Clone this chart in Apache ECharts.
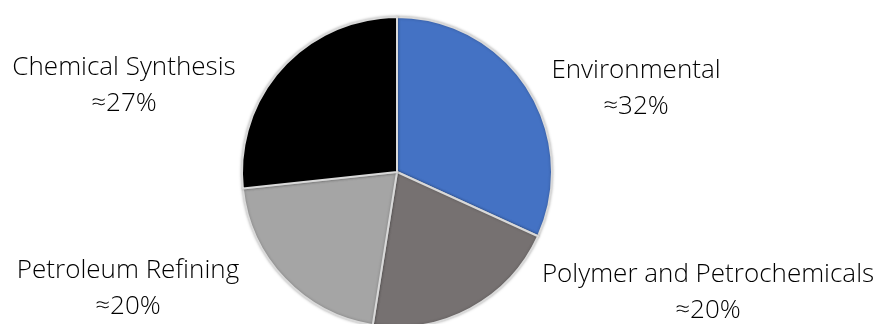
<!DOCTYPE html>
<html><head><meta charset="utf-8">
<script src="https://cdn.jsdelivr.net/npm/echarts@6/dist/echarts.min.js"></script>
<style>html,body{margin:0;padding:0;background:#fff}#c{width:876px;height:324px}</style>
</head><body><div id="c"></div>
<script>
const categories = ['Environmental', 'Polymer and Petrochemicals', 'Petroleum Refining', 'Chemical Synthesis'];
const values = [31.8, 20.7, 20.8, 26.7];
const shareLabels = ['≈32%', '≈20%', '≈20%', '≈27%'];
const colors = ['#4472C4', '#767171', '#A5A5A5', '#000000'];
const labelPos = [[636, 89], [708, 293], [128, 289], [124, 86]];

const chart = echarts.init(document.getElementById('c'), null, {renderer: 'canvas'});
chart.setOption({
  animation: false,
  series: [{
    type: 'pie',
    center: [397, 172],
    radius: [0, 155],
    startAngle: 90,
    clockwise: true,
    data: categories.map((n, i) => ({name: n, value: values[i], itemStyle: {color: colors[i]}})),
    itemStyle: {borderColor: '#D9D9D9', borderWidth: 2, shadowBlur: 3, shadowColor: 'rgba(0,0,0,0.25)'},
    label: {
      show: true,
      formatter: p => p.name + '\n' + shareLabels[p.dataIndex],
      fontFamily: 'Open Sans',
      fontWeight: 300,
      fontSize: 26,
      lineHeight: 36,
      color: '#000',
      align: 'center'
    },
    labelLine: {show: false},
    labelLayout: p => ({x: labelPos[p.dataIndex][0], y: labelPos[p.dataIndex][1], align: 'center', verticalAlign: 'middle'}),
    emphasis: {disabled: true}
  }]
});
</script></body></html>
